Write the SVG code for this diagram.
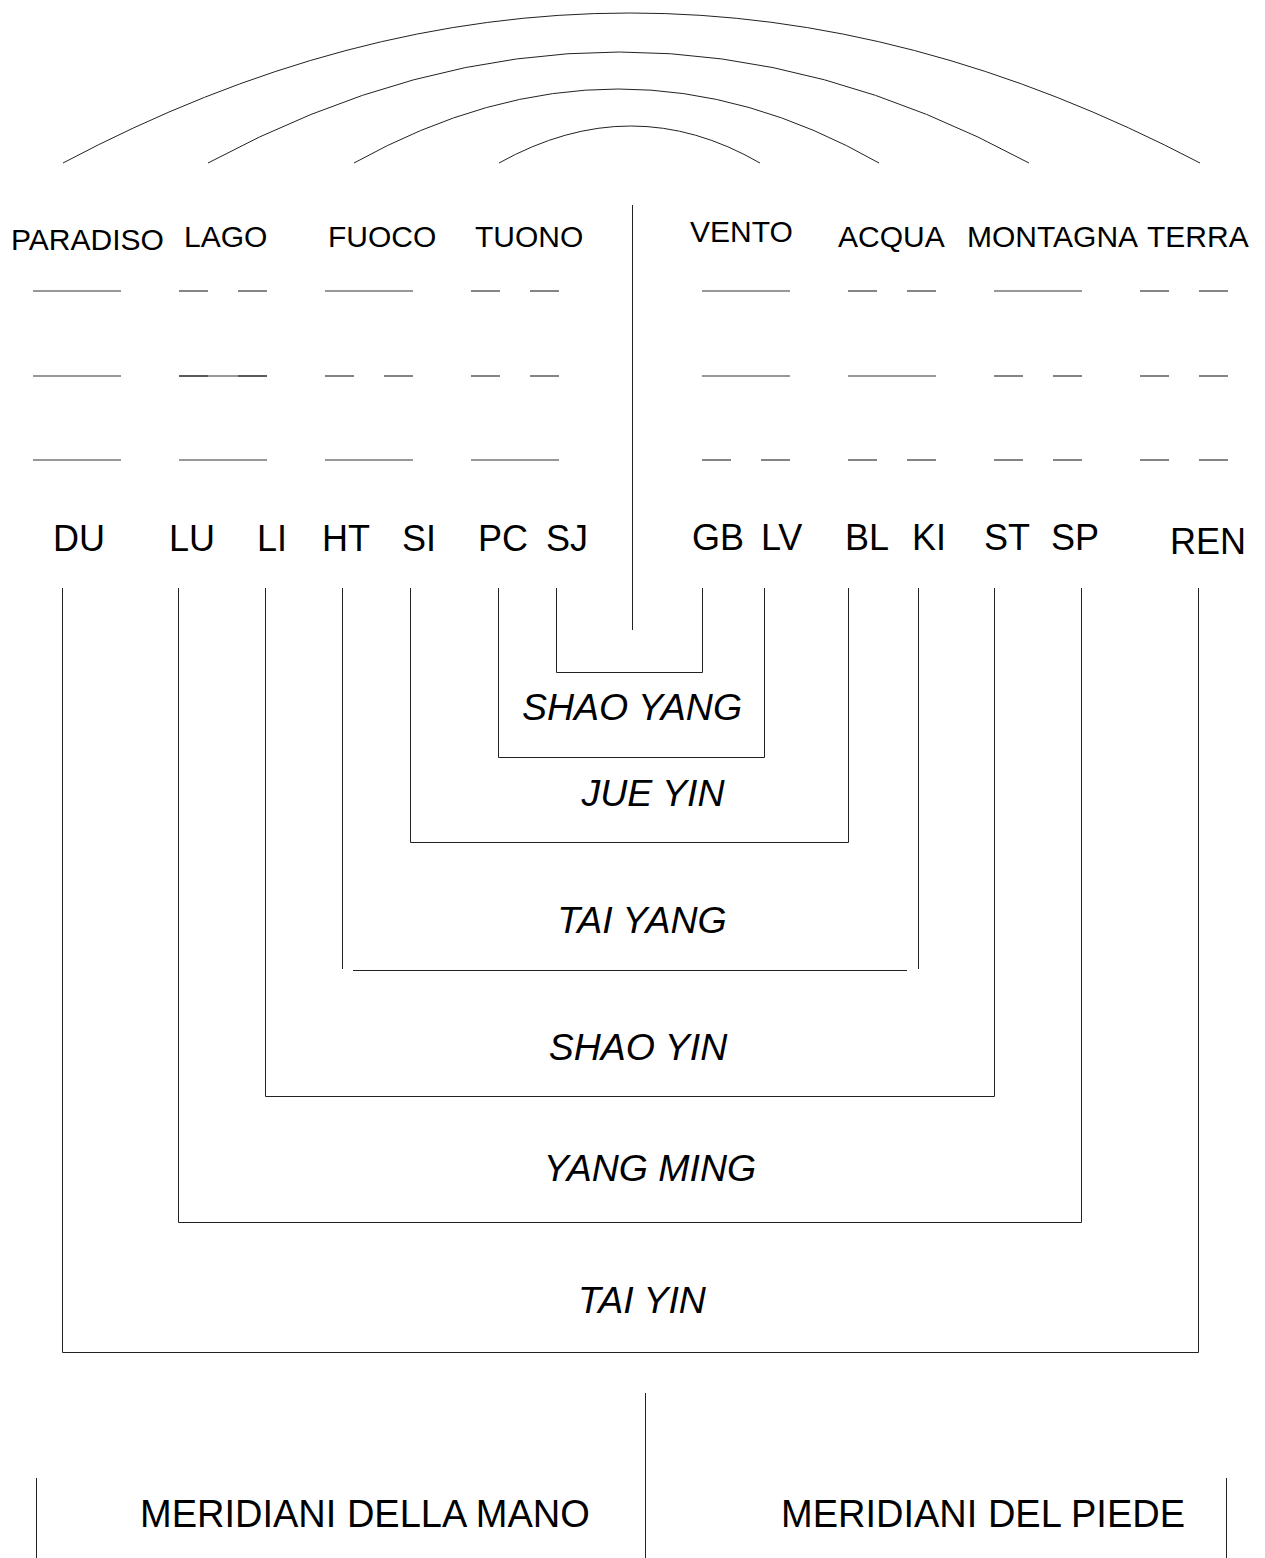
<svg xmlns="http://www.w3.org/2000/svg" width="1265" height="1558" viewBox="0 0 1265 1558">
<style>
.t{font-family:"Liberation Sans",Arial,sans-serif;fill:#000}
.tri{font-size:30px}
.mer{font-size:36px}
.ch{font-size:37.5px;font-style:italic}
.bot{font-size:38px}
.ln{stroke:#222;stroke-width:1;fill:none}
.yl{stroke:#333;stroke-width:1.2;fill:none}
</style>
<defs>
<g id="yang"><line class="yl" x1="0" y1="0" x2="88" y2="0"/></g>
<g id="yin"><line class="yl" x1="0" y1="0" x2="29" y2="0"/><line class="yl" x1="59" y1="0" x2="88" y2="0"/></g>
</defs>
<rect width="1265" height="1558" fill="#fff"/>

<g id="arcs">
<path class="ln" d="M63,163 Q628,-137 1200,163"/>
<path class="ln" d="M208,163 Q620,-59 1029,163"/>
<path class="ln" d="M354,163 Q620,15 879,163"/>
<path class="ln" d="M499,163 Q632,89 760,163"/>
</g>

<g id="trigram-paradiso">
<text class="t tri" x="11" y="250">PARADISO</text>
<use href="#yang" x="33" y="291"/><use href="#yang" x="33" y="376"/><use href="#yang" x="33" y="460"/>
</g>
<g id="trigram-lago">
<text class="t tri" x="184" y="247">LAGO</text>
<use href="#yin" x="179" y="291"/><use href="#yang" x="179" y="376"/><use href="#yin" x="179" y="376"/><use href="#yang" x="179" y="460"/>
</g>
<g id="trigram-fuoco">
<text class="t tri" x="328" y="247">FUOCO</text>
<use href="#yang" x="325" y="291"/><use href="#yin" x="325" y="376"/><use href="#yang" x="325" y="460"/>
</g>
<g id="trigram-tuono">
<text class="t tri" x="475" y="247">TUONO</text>
<use href="#yin" x="471" y="291"/><use href="#yin" x="471" y="376"/><use href="#yang" x="471" y="460"/>
</g>
<g id="trigram-vento">
<text class="t tri" x="690" y="242">VENTO</text>
<use href="#yang" x="702" y="291"/><use href="#yang" x="702" y="376"/><use href="#yin" x="702" y="460"/>
</g>
<g id="trigram-acqua">
<text class="t tri" x="838" y="247">ACQUA</text>
<use href="#yin" x="848" y="291"/><use href="#yang" x="848" y="376"/><use href="#yin" x="848" y="460"/>
</g>
<g id="trigram-montagna">
<text class="t tri" x="967" y="247">MONTAGNA</text>
<use href="#yang" x="994" y="291"/><use href="#yin" x="994" y="376"/><use href="#yin" x="994" y="460"/>
</g>
<g id="trigram-terra">
<text class="t tri" x="1147" y="247">TERRA</text>
<use href="#yin" x="1140" y="291"/><use href="#yin" x="1140" y="376"/><use href="#yin" x="1140" y="460"/>
</g>

<g id="meridians">
<text class="t mer" x="53" y="551">DU</text>
<text class="t mer" x="169" y="551">LU</text>
<text class="t mer" x="257" y="551">LI</text>
<text class="t mer" x="322" y="551">HT</text>
<text class="t mer" x="402" y="551">SI</text>
<text class="t mer" x="478" y="551">PC</text>
<text class="t mer" x="546" y="551">SJ</text>
<text class="t mer" x="692" y="550">GB</text>
<text class="t mer" x="761" y="550">LV</text>
<text class="t mer" x="845" y="550">BL</text>
<text class="t mer" x="912" y="550">KI</text>
<text class="t mer" x="984" y="550">ST</text>
<text class="t mer" x="1051" y="550">SP</text>
<text class="t mer" x="1170" y="554">REN</text>
</g>

<g id="channel-labels">
<text class="t ch" x="632" y="720" text-anchor="middle">SHAO YANG</text>
<text class="t ch" x="653" y="806" text-anchor="middle">JUE YIN</text>
<text class="t ch" x="642" y="933" text-anchor="middle">TAI YANG</text>
<text class="t ch" x="638" y="1060" text-anchor="middle">SHAO YIN</text>
<text class="t ch" x="650" y="1181" text-anchor="middle">YANG MING</text>
<text class="t ch" x="642" y="1313" text-anchor="middle">TAI YIN</text>
</g>

<g id="connectors">
<line class="ln" x1="632.5" y1="205" x2="632.5" y2="630"/>
<path class="ln" d="M556.5,588 V672.5 H702.5 V588"/>
<path class="ln" d="M498.5,588 V757.5 H764.5 V588"/>
<path class="ln" d="M410.5,588 V842.5 H848.5 V588"/>
<path class="ln" d="M342.5,588 V969"/>
<path class="ln" d="M918.5,588 V969"/>
<line class="ln" x1="353" y1="970.5" x2="907" y2="970.5"/>
<path class="ln" d="M265.5,588 V1096.5 H994.5 V588"/>
<path class="ln" d="M178.5,588 V1222.5 H1081.5 V588"/>
<path class="ln" d="M62.5,588 V1352.5 H1198.5 V588"/>
</g>

<g id="footer">
<line class="ln" x1="36.5" y1="1478" x2="36.5" y2="1558"/>
<line class="ln" x1="645.5" y1="1393" x2="645.5" y2="1558"/>
<line class="ln" x1="1226.5" y1="1478" x2="1226.5" y2="1558"/>
<text class="t bot" x="140" y="1527">MERIDIANI DELLA MANO</text>
<text class="t bot" x="781" y="1527">MERIDIANI DEL PIEDE</text>
</g>
</svg>
